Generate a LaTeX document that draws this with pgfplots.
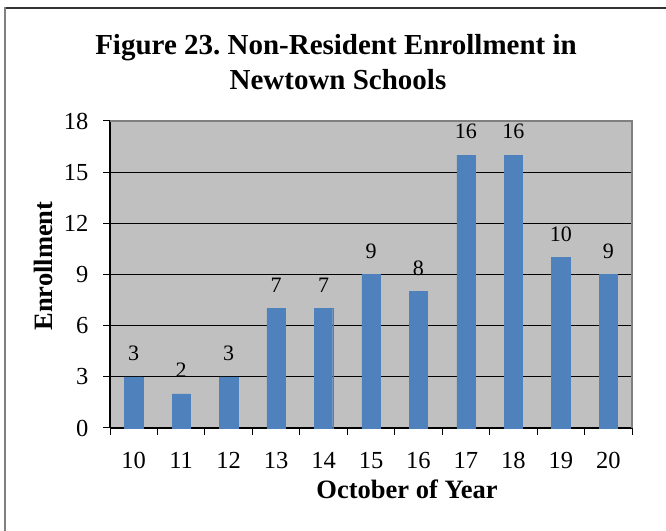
\documentclass[border=0pt]{standalone}
\usepackage{pgfplots}
\pgfplotsset{compat=1.18}
\usepackage{fontspec}
\setmainfont{Liberation Serif}

\definecolor{plotgray}{RGB}{192,192,192}
\definecolor{framegray}{RGB}{128,128,128}
\definecolor{barblue}{RGB}{79,129,189}

\begin{document}
\frenchspacing
\begin{tikzpicture}[x=1bp,y=1bp]
\path[use as bounding box] (0,0) rectangle (666,531);

% chart frame (top and left edges)
\draw[line width=1.5bp, black!80] (4.5,523) -- (666,523);
\draw[line width=1.5bp, framegray] (5,0) -- (5,523.5);

% title
\node[anchor=base, font=\fontsize{29bp}{34bp}\selectfont\bfseries] at (336,476) {Figure 23. Non-Resident Enrollment in};
\node[anchor=base, font=\fontsize{29bp}{34bp}\selectfont\bfseries] at (338,441) {Newtown Schools};

% axis titles
\node[anchor=base, font=\fontsize{26.5bp}{30bp}\selectfont\bfseries] at (407,32) {October of Year};
\node[rotate=90, anchor=base, font=\fontsize{26.5bp}{30bp}\selectfont\bfseries] at (52,265) {Enrollment};

\begin{axis}[
  at={(110bp,103bp)}, anchor=south west,
  scale only axis, width=522bp, height=307bp,
  xmin=-0.5, xmax=10.5, ymin=0, ymax=18,
  axis x line*=bottom, axis y line*=left,
  axis line style={-, black, line width=1.2bp},
  axis background/.style={fill=plotgray},
  ytick={0,3,...,18},
  % tick marks sit between the categories
  xtick={-0.5,0.5,...,10.5},
  xticklabels={},
  % category names under the bars
  extra x ticks={0,...,10},
  extra x tick labels={10,11,12,13,14,15,16,17,18,19,20},
  extra x tick style={major tick length=0pt, grid=none},
  xticklabel style={anchor=base, yshift=-41bp},
  tick style={black, line width=1bp},
  tick align=outside,
  major tick length=7bp,
  ymajorgrids, grid style={black, line width=0.9bp},
  /pgf/number format/assume math mode=true,
  ticklabel style={font=\fontsize{24.5bp}{28bp}\selectfont},
  yticklabel style={anchor=east, xshift=-11bp},
  clip=false,
]
\addplot[ybar, bar width=18.3bp, fill=barblue, draw=barblue,
  nodes near coords,
  every node near coord/.append style={anchor=south, inner sep=0pt, yshift=16bp, black, font=\fontsize{22bp}{26bp}\selectfont},
] coordinates {
  (0,3) (1,2) (2,3) (3,7) (4,7) (5,9) (6,8) (7,16) (8,16) (9,10) (10,9)
};
% plot-area border on the top and right
\draw[framegray, line width=2bp] (rel axis cs:0,1) -- (rel axis cs:1,1) -- (rel axis cs:1,0);
\end{axis}
\end{tikzpicture}
\end{document}
